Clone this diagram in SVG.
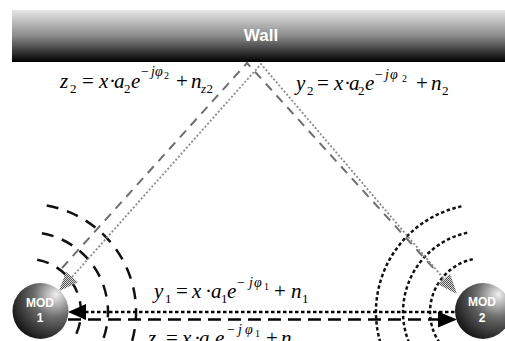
<svg xmlns="http://www.w3.org/2000/svg" width="505" height="341" viewBox="0 0 505 341">
<style>
.wallT{font-family:"Liberation Sans",Arial,sans-serif;font-weight:bold;font-size:17px;fill:#fff}
.mod{font-family:"Liberation Sans",Arial,sans-serif;font-weight:bold;font-size:12px;fill:#fff}
.m{font-family:"Liberation Serif","Times New Roman",serif;font-size:21px;fill:#000}
.i{font-style:italic}
.sb{font-size:13px}
.sp{font-size:14px}
.ss{font-size:10px}
.arcL{fill:none;stroke:#111;stroke-width:2.5;stroke-dasharray:12 9}
.arcR{fill:none;stroke:#111;stroke-width:2.5;stroke-dasharray:3.5 2.5}
.wDash{fill:none;stroke:#6e6e6e;stroke-width:2;stroke-dasharray:9 7}
.wDot{fill:none;stroke:#8a8a8a;stroke-width:1.8;stroke-dasharray:2 2}
.hDot{fill:none;stroke:#000;stroke-width:2.6;stroke-dasharray:3.5 2.5}
.hDash{fill:none;stroke:#000;stroke-width:2.4;stroke-dasharray:13 7}
</style>
<defs>
<linearGradient id="wallG" x1="0" y1="0" x2="0" y2="1">
<stop offset="0" stop-color="#e6e6e6"/>
<stop offset="0.5" stop-color="#8a8a8a"/>
<stop offset="1" stop-color="#000"/>
</linearGradient>
<radialGradient id="sph" cx="0.72" cy="0.28" r="0.85" fx="0.78" fy="0.2">
<stop offset="0" stop-color="#f0f0f0"/>
<stop offset="0.45" stop-color="#6a6a6a"/>
<stop offset="1" stop-color="#0c0c0c"/>
</radialGradient>
<pattern id="hatch" width="2" height="2" patternUnits="userSpaceOnUse">
<rect width="2" height="2" fill="#d8d8d8"/>
<rect width="1" height="1" fill="#555"/>
<rect x="1" y="1" width="1" height="1" fill="#555"/>
</pattern>
</defs>

<g id="wall">
<rect x="12" y="10" width="493" height="52" fill="url(#wallG)"/>
<text class="wallT" x="261" y="41" text-anchor="middle">Wall</text>
</g>

<g id="connectors">
<path class="arcL" d="M37.2,259.8 A53,53 0 0 1 71.4,342.4"/>
<path class="arcL" d="M41.9,233.2 A80,80 0 0 1 93.5,357.9"/>
<path class="arcL" d="M46.7,205.6 A108,108 0 0 1 116.5,374"/>
<path class="arcR" d="M472.8,259.2 A54,54 0 0 0 439.8,343"/>
<path class="arcR" d="M467.2,232.8 A81,81 0 0 0 417.7,358.5"/>
<path class="arcR" d="M461.5,206.4 A108,108 0 0 0 395.5,374"/>
<path class="wDash" d="M62,268 L247,63 L437,272"/>
<path class="wDot" d="M72,277 L261,64 L444,279"/>
<polygon points="59,291 78,282.3 66,271.7" fill="url(#hatch)"/>
<polygon points="457,294 450,273.8 438,284.2" fill="url(#hatch)"/>
<line class="hDot" x1="85" y1="312" x2="457" y2="312"/>
<polygon points="68,312 86,304 86,320" fill="#000"/>
<line class="hDash" x1="68" y1="319.5" x2="439" y2="319.5"/>
<polygon points="457,319.5 438,311.5 438,327.5" fill="#000"/>
</g>

<g id="mod1">
<circle cx="40.5" cy="311" r="28" fill="url(#sph)"/>
<text class="mod" x="40" y="306.5" text-anchor="middle">MOD</text>
<text class="mod" x="40" y="321.5" text-anchor="middle">1</text>
</g>

<g id="mod2">
<circle cx="483" cy="311" r="28" fill="url(#sph)"/>
<text class="mod" x="482" y="305.5" text-anchor="middle">MOD</text>
<text class="mod" x="482" y="321.5" text-anchor="middle">2</text>
</g>

<g id="labels">
<text class="m" y="88"><tspan class="i" x="60">z</tspan><tspan class="sb" x="70" y="93">2</tspan><tspan x="82" y="88">=</tspan><tspan class="i" x="99">x</tspan><tspan x="109">·</tspan><tspan class="i" x="114">a</tspan><tspan class="sb" x="124" y="93">2</tspan><tspan class="i" x="131" y="88">e</tspan><tspan class="sp" x="141" y="76">−</tspan><tspan class="sp i" x="151">j</tspan><tspan class="sp i" x="155">φ</tspan><tspan class="ss" x="164" y="79">2</tspan><tspan x="176" y="88">+</tspan><tspan class="i" x="191">n</tspan><tspan class="sb i" x="201" y="93">z</tspan><tspan class="sb" x="206.5">2</tspan></text>

<text class="m" y="90"><tspan class="i" x="296">y</tspan><tspan class="sb" x="307" y="95">2</tspan><tspan x="317" y="90">=</tspan><tspan class="i" x="334">x</tspan><tspan x="344">·</tspan><tspan class="i" x="349">a</tspan><tspan class="sb" x="358" y="95">2</tspan><tspan class="i" x="365" y="90">e</tspan><tspan class="sp" x="375" y="79">−</tspan><tspan class="sp i" x="385">j</tspan><tspan class="sp i" x="390">φ</tspan><tspan class="ss" x="402" y="82">2</tspan><tspan x="416" y="90">+</tspan><tspan class="i" x="431">n</tspan><tspan class="sb" x="442" y="95">2</tspan></text>

<text class="m" y="298"><tspan class="i" x="154">y</tspan><tspan class="sb" x="165" y="303">1</tspan><tspan x="176" y="298">=</tspan><tspan class="i" x="192">x</tspan><tspan x="205">·</tspan><tspan class="i" x="211">a</tspan><tspan class="sb" x="221" y="303">1</tspan><tspan class="i" x="227" y="298">e</tspan><tspan class="sp" x="237" y="287">−</tspan><tspan class="sp i" x="249">j</tspan><tspan class="sp i" x="254">φ</tspan><tspan class="ss" x="264" y="290">1</tspan><tspan x="274" y="298">+</tspan><tspan class="i" x="291">n</tspan><tspan class="sb" x="302" y="303">1</tspan></text>

<text class="m" y="345"><tspan class="i" x="148">z</tspan><tspan class="sb" x="157" y="350">1</tspan><tspan x="166" y="345">=</tspan><tspan class="i" x="182">x</tspan><tspan x="194">·</tspan><tspan class="i" x="199">a</tspan><tspan class="sb" x="209" y="350">1</tspan><tspan class="i" x="215" y="345">e</tspan><tspan class="sp" x="227" y="334">−</tspan><tspan class="sp i" x="238">j</tspan><tspan class="sp i" x="245">φ</tspan><tspan class="ss" x="255" y="337">1</tspan><tspan x="266" y="345">+</tspan><tspan class="i" x="281">n</tspan><tspan class="sb" x="292" y="350">1</tspan></text>
</g>
</svg>
